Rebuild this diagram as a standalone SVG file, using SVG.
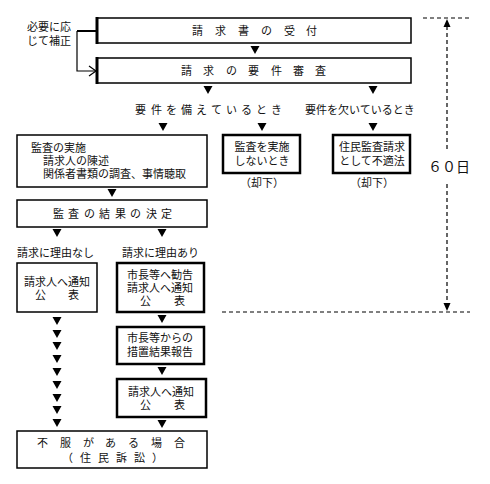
<svg xmlns="http://www.w3.org/2000/svg" width="490" height="484" viewBox="0 0 490 484">
<style>
text{font-family:"Noto Sans CJK JP","Noto Sans CJK SC",sans-serif;font-size:11px;fill:#111}
.b{fill:#fff;stroke:#000;stroke-width:1.5}
.k{fill:#fff;stroke:#000;stroke-width:2.5}
.m{text-anchor:middle}
.e{text-anchor:end}
.d{stroke:#000;stroke-width:1.2;stroke-dasharray:4 3;fill:none}
</style>
<defs>
<path id="t" d="M-4.5,-4 L4.5,-4 L0,4 Z" fill="#000"/>
</defs>
<g id="n1"><rect class="b" x="97" y="18" width="314" height="25"/><path d="M97,17 V44" stroke="#000" stroke-width="3"/>
<text x="192 215 238 261 284 306" y="35">請求書の受付</text></g>
<g id="n2"><rect class="b" x="97" y="58" width="314" height="25"/><path d="M97,57 V84" stroke="#000" stroke-width="3"/>
<text x="181 203 226 248 271 293 315" y="75">請求の要件審査</text></g>
<g id="hosei"><text class="e" x="71" y="31">必要に応</text><text class="e" x="71" y="45">じて補正</text></g>
<g id="lbl1"><text x="135 151 166 181 196 211 226 241 256 271" y="114">要件を備えているとき</text></g>
<g id="lbl2"><text x="305" y="114">要件を欠いているとき</text></g>
<g id="n3"><rect class="b" x="17" y="135" width="190" height="52"/>
<text x="31" y="152">監査の実施</text><text x="43" y="165">請求人の陳述</text><text x="43" y="178">関係者書類の調査、事情聴取</text></g>
<g id="n4"><rect class="k" x="223" y="135" width="77" height="38"/>
<text class="m" x="262" y="151">監査を実施</text><text class="m" x="262" y="165">しないとき</text></g>
<text class="m" x="262" y="187">（却下）</text>
<g id="n5"><rect class="k" x="333" y="135" width="77" height="38"/>
<text class="m" x="372" y="151">住民監査請求</text><text class="m" x="372" y="165">として不適法</text></g>
<text class="m" x="372" y="187">（却下）</text>
<g id="n6"><rect class="b" x="17" y="200" width="190" height="27"/>
<text x="53 68 84 99 115 130 146 161" y="218">監査の結果の決定</text></g>
<text x="17" y="257">請求に理由なし</text>
<text x="122" y="257">請求に理由あり</text>
<g id="n7"><rect class="b" x="17" y="263" width="80" height="49"/>
<text class="m" x="57" y="286">請求人へ通知</text><text x="35 68" y="299">公表</text></g>
<g id="n8"><rect class="k" x="117" y="263" width="87" height="49"/>
<text class="m" x="160" y="279">市長等へ勧告</text><text class="m" x="160" y="292">請求人へ通知</text><text x="140 174" y="305">公表</text></g>
<g id="n9"><rect class="k" x="117" y="327" width="87" height="37"/>
<text class="m" x="160" y="342">市長等からの</text><text class="m" x="160" y="356">措置結果報告</text></g>
<g id="n10"><rect class="k" x="117" y="379" width="89" height="38"/>
<text class="m" x="161" y="396">請求人へ通知</text><text x="140 174" y="409">公表</text></g>
<g id="n11"><rect class="b" x="17" y="431" width="190" height="37"/>
<text x="37 60 83 105 128 151 174" y="447">不服がある場合</text>
<text x="62 80 98 116 134 152" y="462">（住民訴訟）</text></g>
<text x="428" y="172" style="font-size:14px">６０日</text>
<g id="connectors">
<path d="M77,31 H97" stroke="#000" stroke-width="2" fill="none"/>
<path d="M77,31 V71 H96" stroke="#000" stroke-width="1.2" fill="none"/>
<path d="M89,66 L96,71 L89,76" stroke="#000" stroke-width="1.2" fill="none"/>
<use href="#t" x="255" y="50"/>
<use href="#t" x="208" y="90"/>
<use href="#t" x="373" y="90"/>
<use href="#t" x="163" y="127"/>
<use href="#t" x="262" y="127"/>
<use href="#t" x="373" y="127"/>
<use href="#t" x="112" y="193"/>
<use href="#t" x="57" y="233"/>
<use href="#t" x="162" y="233"/>
<use href="#t" x="162" y="319"/>
<use href="#t" x="162" y="371"/>
<use href="#t" x="162" y="424"/>
<use href="#t" x="57" y="321"/>
<use href="#t" x="57" y="334"/>
<use href="#t" x="57" y="346"/>
<use href="#t" x="57" y="359"/>
<use href="#t" x="57" y="372"/>
<use href="#t" x="57" y="385"/>
<use href="#t" x="57" y="398"/>
<use href="#t" x="57" y="410"/>
<use href="#t" x="57" y="423"/>
<path class="d" d="M423,18 H470"/>
<path class="d" d="M222,312 H470"/>
<path class="d" d="M447,26 V150"/>
<path class="d" d="M447,184 V304"/>
<path d="M447,19 L443.5,27 L450.5,27 Z" fill="#000"/>
<path d="M447,311 L443.5,303 L450.5,303 Z" fill="#000"/>
</g>
</svg>
